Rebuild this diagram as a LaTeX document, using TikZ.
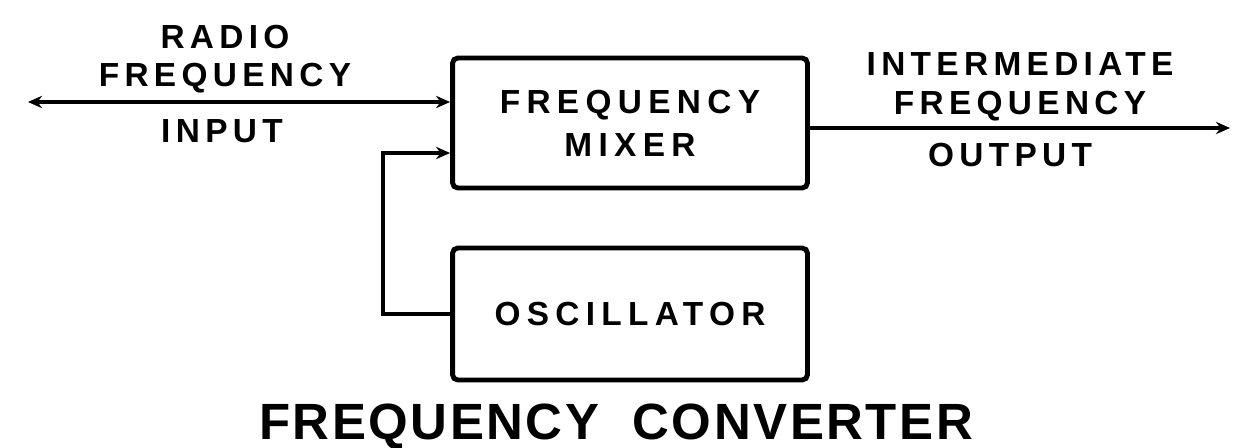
\documentclass[tikz,border=0pt]{standalone}
\usepackage{fontspec}
\setmainfont{Liberation Sans}
\newfontfamily\lblfont[LetterSpace=16]{Liberation Sans}
\newfontfamily\boxfont[LetterSpace=19]{Liberation Sans}
\newfontfamily\titlefont[LetterSpace=5]{Liberation Sans}
\usetikzlibrary{arrows.meta}

\begin{document}
\begin{tikzpicture}[x=0.02cm, y=-0.02cm, >={Stealth[length=8pt,width=7pt]},
  block/.style={draw, line width=2.8pt, rounded corners=3pt,
    minimum width=7.1cm, align=center,
    font=\boxfont\bfseries\fontsize{19}{24.5}\selectfont},
  lbl/.style={align=center, inner sep=0pt,
    font=\lblfont\bfseries\fontsize{19}{22}\selectfont},
  wire/.style={line width=2.3pt}]
  \useasboundingbox (0,0) rectangle (1234,448);
  \node[block, minimum height=2.6cm] (mix) at (630,123) {FREQUENCY\\MIXER};
  \node[block, minimum height=2.64cm] (osc) at (630,314) {OSCILLATOR};
  \coordinate (rfin) at (28,102);
  \coordinate (ifout) at (1230,128);
  \coordinate (bend) at (383,153);
  \draw[wire, <->] (rfin) -- (mix.west |- rfin);
  \draw[wire, ->] (mix.east |- ifout) -- (ifout);
  \draw[wire, ->] (osc.west) -| (bend) -- (mix.west |- bend);
  \node[lbl] (rflbl) at (225,59) {RADIO\\FREQUENCY};
  \node[lbl] (inlbl) at (222,131) {INPUT};
  \node[lbl] (iflbl) at (1020,87) {INTERMEDIATE\\FREQUENCY};
  \node[lbl] (outlbl) at (1010,155) {OUTPUT};
  \node[inner sep=0pt, font=\titlefont\bfseries\fontsize{29}{32}\selectfont]
    (title) at (616,427) {FREQUENCY\ \ CONVERTER};
\end{tikzpicture}
\end{document}
